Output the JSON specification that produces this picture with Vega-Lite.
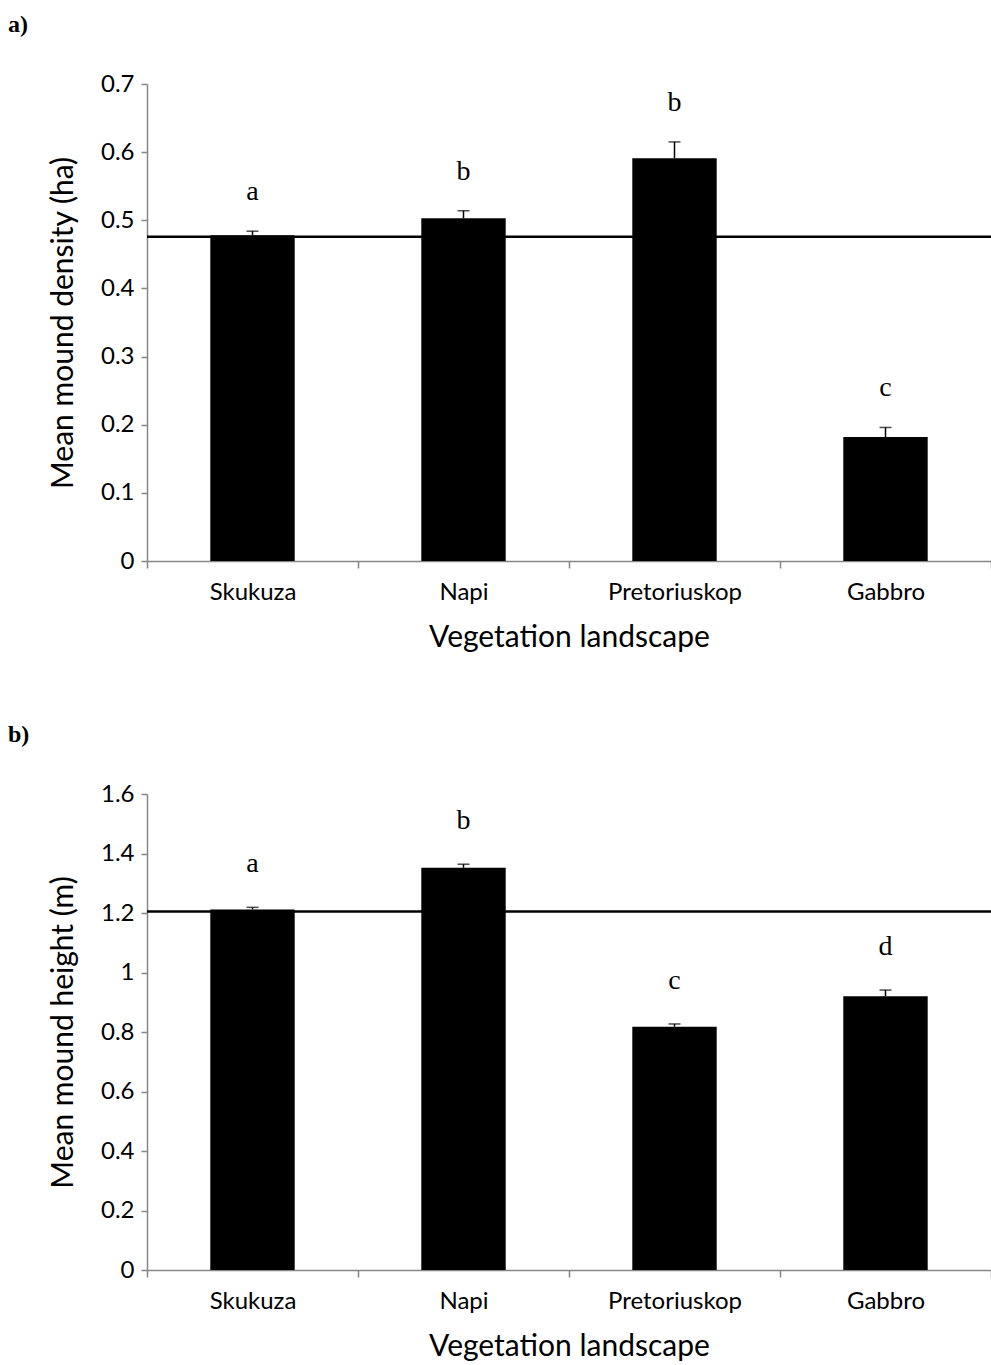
{
  "$schema": "https://vega.github.io/schema/vega-lite/v6.json",
  "background": "white",
  "padding": {"left": 8, "top": 13, "right": 0, "bottom": 0},
  "spacing": 71,
  "config": {
    "view": {"stroke": null},
    "font": "Lato",
    "axis": {
      "domainColor": "#868686",
      "tickColor": "#868686",
      "domainWidth": 1.5,
      "tickWidth": 1.5,
      "labelColor": "black",
      "titleColor": "black",
      "labelFont": "Lato",
      "titleFont": "Lato",
      "labelFontSize": 24,
      "titleFontSize": 30,
      "titleFontWeight": "normal",
      "grid": false
    },
    "title": {"font": "Liberation Serif", "fontSize": 24, "fontWeight": "bold", "color": "black"}
  },
  "vconcat": [
    {
      "title": {"text": "a)", "anchor": "start", "frame": "group", "dx": -139, "offset": 35},
      "width": 844,
      "height": 477,
      "data": {
        "values": [
          {"landscape": "Skukuza", "mean": 0.478, "upper": 0.484, "group": "a"},
          {"landscape": "Napi", "mean": 0.503, "upper": 0.514, "group": "b"},
          {"landscape": "Pretoriuskop", "mean": 0.591, "upper": 0.615, "group": "b"},
          {"landscape": "Gabbro", "mean": 0.182, "upper": 0.196, "group": "c"}
        ]
      },
      "encoding": {
        "x": {
          "field": "landscape", "type": "nominal", "sort": null,
          "scale": {"paddingInner": 0, "paddingOuter": 0},
          "axis": {"title": "Vegetation landscape", "labelAngle": 0, "tickBand": "extent", "tickSize": 7, "labelPadding": 12, "titlePadding": 18}
        }
      },
      "layer": [
        {
          "mark": {"type": "bar", "color": "black", "width": {"band": 0.4}},
          "encoding": {
            "y": {
              "field": "mean", "type": "quantitative",
              "scale": {"domain": [0, 0.7], "nice": false},
              "axis": {"title": "Mean mound density (ha)", "values": [0, 0.1, 0.2, 0.3, 0.4, 0.5, 0.6, 0.7], "format": "~g", "tickSize": 6, "labelPadding": 7, "titlePadding": 22}
            }
          }
        },
        {
          "mark": {"type": "rule", "color": "black", "strokeWidth": 1.5},
          "encoding": {"y": {"field": "mean", "type": "quantitative"}, "y2": {"field": "upper"}}
        },
        {
          "mark": {"type": "tick", "color": "black", "thickness": 1.5, "size": 12},
          "encoding": {"y": {"field": "upper", "type": "quantitative"}}
        },
        {
          "mark": {"type": "text", "font": "Liberation Serif", "fontSize": 28, "baseline": "alphabetic", "dy": -31},
          "encoding": {"y": {"field": "upper", "type": "quantitative"}, "text": {"field": "group"}}
        },
        {
          "data": {"values": [{"overall": 0.476}]},
          "mark": {"type": "rule", "color": "black", "strokeWidth": 2.5},
          "encoding": {"x": null, "y": {"field": "overall", "type": "quantitative"}}
        }
      ]
    },
    {
      "title": {"text": "b)", "anchor": "start", "frame": "group", "dx": -139, "offset": 35},
      "width": 844,
      "height": 476,
      "data": {
        "values": [
          {"landscape": "Skukuza", "mean": 1.212, "upper": 1.219, "group": "a"},
          {"landscape": "Napi", "mean": 1.352, "upper": 1.364, "group": "b"},
          {"landscape": "Pretoriuskop", "mean": 0.818, "upper": 0.827, "group": "c"},
          {"landscape": "Gabbro", "mean": 0.92, "upper": 0.941, "group": "d"}
        ]
      },
      "encoding": {
        "x": {
          "field": "landscape", "type": "nominal", "sort": null,
          "scale": {"paddingInner": 0, "paddingOuter": 0},
          "axis": {"title": "Vegetation landscape", "labelAngle": 0, "tickBand": "extent", "tickSize": 7, "labelPadding": 12, "titlePadding": 18}
        }
      },
      "layer": [
        {
          "mark": {"type": "bar", "color": "black", "width": {"band": 0.4}},
          "encoding": {
            "y": {
              "field": "mean", "type": "quantitative",
              "scale": {"domain": [0, 1.6], "nice": false},
              "axis": {"title": "Mean mound height (m)", "values": [0, 0.2, 0.4, 0.6, 0.8, 1, 1.2, 1.4, 1.6], "format": "~g", "tickSize": 6, "labelPadding": 7, "titlePadding": 22}
            }
          }
        },
        {
          "mark": {"type": "rule", "color": "black", "strokeWidth": 1.5},
          "encoding": {"y": {"field": "mean", "type": "quantitative"}, "y2": {"field": "upper"}}
        },
        {
          "mark": {"type": "tick", "color": "black", "thickness": 1.5, "size": 12},
          "encoding": {"y": {"field": "upper", "type": "quantitative"}}
        },
        {
          "mark": {"type": "text", "font": "Liberation Serif", "fontSize": 28, "baseline": "alphabetic", "dy": -35},
          "encoding": {"y": {"field": "upper", "type": "quantitative"}, "text": {"field": "group"}}
        },
        {
          "data": {"values": [{"overall": 1.205}]},
          "mark": {"type": "rule", "color": "black", "strokeWidth": 2.5},
          "encoding": {"x": null, "y": {"field": "overall", "type": "quantitative"}}
        }
      ]
    }
  ]
}
